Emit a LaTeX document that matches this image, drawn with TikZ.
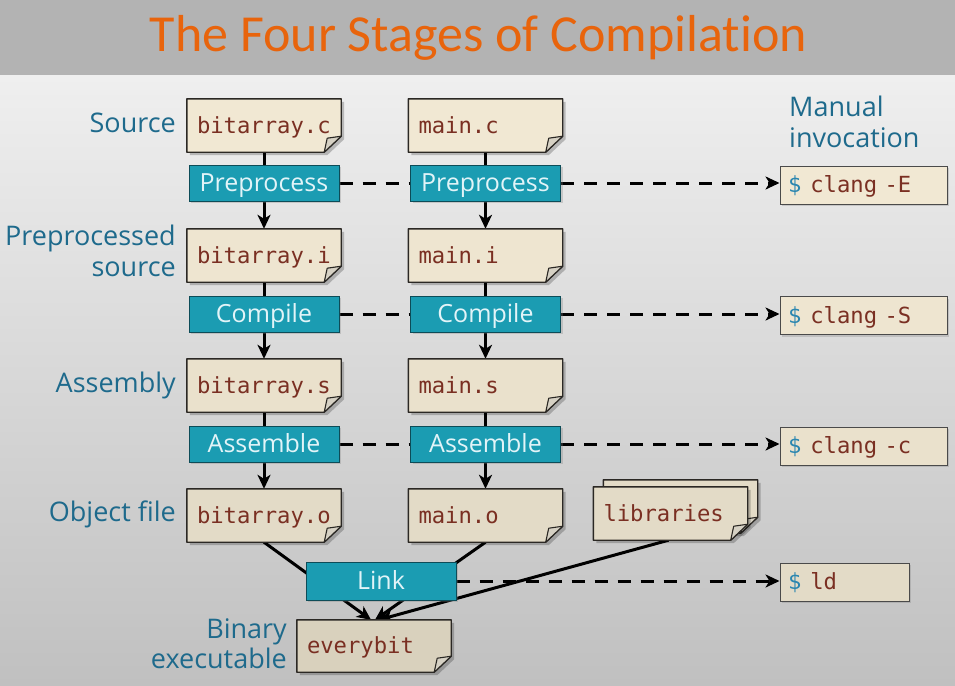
\documentclass[tikz,border=0pt]{standalone}
\usepackage{fontspec}
\setmainfont{Open Sans}
\setmonofont{DejaVu Sans Mono}
\newfontfamily\headfont[Ligatures={NoCommon}]{Carlito}
\usetikzlibrary{arrows.meta,calc,shadows}

\definecolor{barbg}{HTML}{B3B3B3}
\definecolor{headcol}{HTML}{E8640C}
\definecolor{bgtop}{HTML}{EFEFEF}
\definecolor{bgmid}{HTML}{E0E0E0}
\definecolor{bgbot}{HTML}{C0C0C0}
\definecolor{labelcol}{HTML}{1E6A8C}
\definecolor{procfill}{HTML}{1B9CB2}
\definecolor{procline}{HTML}{0D4C58}
\definecolor{proctext}{HTML}{E2F4F8}
\definecolor{codecol}{HTML}{7A2F22}
\definecolor{dollarcol}{HTML}{2A86B0}
\definecolor{paperline}{HTML}{2B2824}
\definecolor{flapcol}{HTML}{D6D1C4}
\definecolor{papera}{HTML}{F1E8D3}
\definecolor{paperb}{HTML}{EEE5D0}
\definecolor{paperc}{HTML}{EAE1CC}
\definecolor{paperd}{HTML}{E3DBC7}
\definecolor{papere}{HTML}{D9D1BD}
\definecolor{cmdline}{HTML}{4A4A4A}

\pgfdeclarelayer{backdrop}
\pgfdeclarelayer{lines}
\pgfdeclarelayer{docs}
\pgfsetlayers{backdrop,lines,docs,main}

% sheet of paper with a curled lower-right corner, drawn around a node
\newcommand\foldpaper[2][papera]{%
  \begin{pgfonlayer}{docs}
    \fill[black, opacity=0.22]
      ($(#2.north west)+(3,3)$) -- ($(#2.north east)+(3,3)$) --
      ($(#2.south east)+(3,-13)$) -- ($(#2.south east)+(-14,3)$) --
      ($(#2.south west)+(3,3)$) -- cycle;
    \filldraw[fill=#1, draw=paperline, line width=1.4pt, line join=round]
      (#2.north west) -- (#2.north east) -- ($(#2.south east)+(0,-16)$) --
      ($(#2.south east)+(-17,0)$) -- (#2.south west) -- cycle;
    \filldraw[fill=flapcol, draw=paperline, line width=1.1pt, line join=round]
      ($(#2.south east)+(0,-16)$)
      .. controls ($(#2.south east)+(-7,-15)$) .. ($(#2.south east)+(-14,-14)$)
      .. controls ($(#2.south east)+(-15,-7)$) .. ($(#2.south east)+(-17,0)$) -- cycle;
  \end{pgfonlayer}}

\newcommand\promptsign{\textcolor{dollarcol}{\$}\kern9pt}

\begin{document}
\begin{tikzpicture}[x=1pt,y=-1pt,
  lbl/.style={text=labelcol, font=\fontsize{27}{31}\selectfont, inner sep=0pt},
  doc/.style={minimum height=53pt, text width=134pt, inner xsep=10pt, inner ysep=0pt,
    align=left, text height=18pt, text depth=3pt, text=codecol,
    font=\ttfamily\fontsize{22.2}{26}\selectfont},
  proc/.style={fill=procfill, draw=procline, line width=1pt, minimum width=150pt,
    minimum height=36pt, inner sep=0pt, text height=19pt, text depth=3pt,
    text=proctext, font=\fontsize{25}{28}\selectfont,
    drop shadow={shadow xshift=2pt, shadow yshift=-2pt, opacity=0.3}},
  cmd/.style={draw=cmdline, line width=1pt, minimum height=38pt, inner xsep=8pt,
    inner ysep=0pt, align=left, text height=18pt, text depth=3pt, text=codecol,
    font=\ttfamily\fontsize{22.2}{26}\selectfont,
    drop shadow={shadow xshift=2pt, shadow yshift=-2pt, opacity=0.3}},
  flow/.style={line width=3pt, black},
  tip/.style={-{Stealth[length=14pt,width=13pt,inset=4pt]}},
  manual/.style={line width=3pt, black, dash pattern=on 13pt off 10pt},
]
\useasboundingbox (0,0) rectangle (955,685);

% backdrop and title bar
\begin{pgfonlayer}{backdrop}
  \shade[top color=bgtop, middle color=bgmid, bottom color=bgbot] (0,75) rectangle (955,685);
  \fill[barbg] (0,0) rectangle (955,75);
\end{pgfonlayer}
\node[anchor=base, text=headcol, inner sep=0pt, font=\headfont\fontsize{52}{60}\selectfont]
  (title) at (478.5,52) {The Four Stages of Compilation};

% stage labels
\node[lbl, anchor=base east] (lsrc)   at (176,132) {Source};
\node[lbl, anchor=base east] (lpre1)  at (176,245) {Preprocessed};
\node[lbl, anchor=base east] (lpre2)  at (176,276) {source};
\node[lbl, anchor=base east] (lasm)   at (176,392) {Assembly};
\node[lbl, anchor=base east] (lobj)   at (176,521) {Object file};
\node[lbl, anchor=base east] (lbin1)  at (287,638) {Binary};
\node[lbl, anchor=base east] (lbin2)  at (287,668) {executable};
\node[lbl, anchor=base west] (lman1)  at (789,116) {Manual};
\node[lbl, anchor=base west] (lman2)  at (789,147) {invocation};

% files
\node[doc] (bc) at (264,125.5)   {bitarray.c};
\node[doc] (mc) at (485.5,125.5) {main.c};
\node[doc] (bi) at (264,255.5)   {bitarray.i};
\node[doc] (mi) at (485.5,255.5) {main.i};
\node[doc] (bs) at (264,385.5)   {bitarray.s};
\node[doc] (ms) at (485.5,385.5) {main.s};
\node[doc] (bo) at (264,515.5)   {bitarray.o};
\node[doc] (mo) at (485.5,515.5) {main.o};
\node[doc] (libback) at (680.5,506.5) {};
\node[doc] (lib) at (670.5,513.5) {libraries};
\node[doc, minimum height=52pt] (eb) at (374,646) {everybit};

\foldpaper[papera]{bc}
\foldpaper[papera]{mc}
\foldpaper[paperb]{bi}
\foldpaper[paperb]{mi}
\foldpaper[paperc]{bs}
\foldpaper[paperc]{ms}
\foldpaper[paperd]{bo}
\foldpaper[paperd]{mo}
\foldpaper[paperd]{libback}
\foldpaper[paperd]{lib}
\foldpaper[papere]{eb}

% compiler steps
\node[proc] (pl1) at (264,183)   {Preprocess};
\node[proc] (pr1) at (485.5,183) {Preprocess};
\node[proc] (pl2) at (264,314)   {Compile};
\node[proc] (pr2) at (485.5,314) {Compile};
\node[proc] (pl3) at (264,444)   {Assemble};
\node[proc] (pr3) at (485.5,444) {Assemble};
\node[proc, minimum height=38pt] (link) at (381,581) {Link};

% command-line equivalents
\node[cmd, fill=papera, text width=151pt] (cE)  at (863.5,185)   {\promptsign clang -E};
\node[cmd, fill=paperb, text width=151pt] (cS)  at (863.5,315.5) {\promptsign clang -S};
\node[cmd, fill=paperc, text width=151pt] (cc)  at (863.5,446)   {\promptsign clang -c};
\node[cmd, fill=paperd, text width=113pt] (cld) at (844.5,582)   {\promptsign ld};

% connectors
\begin{pgfonlayer}{lines}
  \draw[flow] (bc) -- (pl1);
  \draw[flow] (mc) -- (pr1);
  \draw[flow, tip] (pl1) -- (bi);
  \draw[flow, tip] (pr1) -- (mi);
  \draw[flow] (bi) -- (pl2);
  \draw[flow] (mi) -- (pr2);
  \draw[flow, tip] (pl2) -- (bs);
  \draw[flow, tip] (pr2) -- (ms);
  \draw[flow] (bs) -- (pl3);
  \draw[flow] (ms) -- (pr3);
  \draw[flow, tip] (pl3) -- (bo);
  \draw[flow, tip] (pr3) -- (mo);

  \draw[flow, tip] (bo.south) -- ($(eb.north)+(-3,0)$);
  \draw[flow, tip] (mo.south) -- ($(eb.north)+(1,0)$);
  \draw[flow, tip] ($(lib.south)+(-2,0)$) -- ($(eb.north)+(5,0)$);

  \draw[manual] (pl1) -- (pr1);
  \draw[manual] (pl2) -- (pr2);
  \draw[manual] (pl3) -- (pr3);
  \draw[manual, tip] (pr1.east) -- (pr1.east -| cE.west);
  \draw[manual, tip] (pr2.east) -- (pr2.east -| cS.west);
  \draw[manual, tip] (pr3.east) -- (pr3.east -| cc.west);
  \draw[manual, tip] (link.east) -- (link.east -| cld.west);
\end{pgfonlayer}
\end{tikzpicture}
\end{document}
